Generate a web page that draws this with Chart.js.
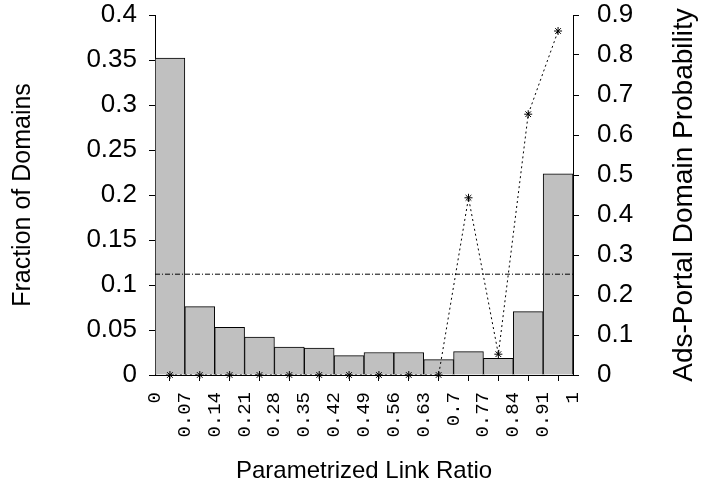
<!DOCTYPE html>
<html>
<head>
<meta charset="utf-8">
<script src="https://cdn.jsdelivr.net/npm/chart.js@4"></script>
<style>
    html, body { margin: 0; padding: 0; background: #fff; }
    #wrap { width: 701px; height: 492px; }
</style>
</head>
<body>
<div id="wrap"><canvas id="ratioChart" width="701" height="492"></canvas></div>
<script>
// Datos
const binLabels = ['0', '0.07', '0.14', '0.21', '0.28', '0.35', '0.42', '0.49', '0.56', '0.63', '0.7', '0.77', '0.84', '0.91', '1'];
const fraction = [0.352, 0.076, 0.053, 0.042, 0.031, 0.030, 0.0215, 0.025, 0.025, 0.017, 0.026, 0.0185, 0.0705, 0.2235];
const adsProb = [0, 0, 0, 0, 0, 0, 0, 0, 0, 0, 0.443, 0.052, 0.652, 0.86];
const avgProb = 0.252;

const sansFont = 'Liberation Sans, Arial, sans-serif';
const monoFont = 'Liberation Mono, Courier New, monospace';

// puntos en el centro de cada intervalo
const barPoints = fraction.map((v, i) => ({ x: i + 0.5, y: v }));
const probPoints = adsProb.map((v, i) => ({ x: i + 0.5, y: v }));
const avgPoints = [{ x: 0, y: avgProb }, { x: fraction.length, y: avgProb }];

// titulo del eje derecho, leido de abajo hacia arriba
const rightTitle = {
    id: 'rightTitle',
    afterDraw(chart) {
        const ctx = chart.ctx;
        const area = chart.chartArea;
        ctx.save();
        ctx.translate(684, (area.top + area.bottom) / 2);
        ctx.rotate(-Math.PI / 2);
        ctx.font = '28px ' + sansFont;
        ctx.fillStyle = '#000';
        ctx.textAlign = 'center';
        ctx.textBaseline = 'middle';
        ctx.fillText('Ads-Portal Domain Probability', 0, 0);
        ctx.restore();
    }
};

// ancho fijo del eje vertical, sin margen extra arriba/abajo
function fixVertical(width) {
    return (scale) => {
        scale.width = width;
        scale.paddingTop = 0;
        scale.paddingBottom = 0;
    };
}

const ctxRatio = document.getElementById('ratioChart').getContext('2d');

const ratioChart = new Chart(ctxRatio, {
    type: 'bar',
    data: {
        datasets: [{
            type: 'line',
            data: avgPoints,
            yAxisID: 'y2',
            borderColor: '#000',
            borderWidth: 1,
            borderDash: [5, 2, 1, 2],
            pointRadius: 0,
            order: 0
        }, {
            type: 'line',
            data: probPoints,
            yAxisID: 'y2',
            borderColor: '#000',
            borderWidth: 1,
            borderDash: [2, 3],
            pointStyle: 'star',
            pointRadius: 4,
            pointBorderColor: '#000',
            pointBorderWidth: 1,
            clip: false,
            order: 0
        }, {
            type: 'bar',
            data: barPoints,
            yAxisID: 'y',
            backgroundColor: '#c0c0c0',
            borderColor: '#000',
            borderWidth: 1,
            barPercentage: 1,
            categoryPercentage: 1,
            order: 1
        }]
    },
    options: {
        responsive: false,
        animation: false,
        layout: { padding: { top: 15, left: 0, right: 0, bottom: 0 } },
        plugins: {
            legend: { display: false },
            tooltip: { enabled: false }
        },
        scales: {
            x: {
                type: 'linear',
                offset: false,
                min: 0,
                max: fraction.length,
                afterFit: (scale) => { scale.height = 117; },
                grid: { drawOnChartArea: false, tickLength: 6, color: '#000' },
                border: { color: '#000', width: 1 },
                ticks: {
                    stepSize: 1,
                    autoSkip: false,
                    maxRotation: 90,
                    minRotation: 90,
                    padding: 11,
                    color: '#000',
                    font: { family: monoFont, size: 19 },
                    callback: (v) => binLabels[v]
                },
                title: {
                    display: true,
                    text: 'Parametrized Link Ratio',
                    color: '#000',
                    font: { family: sansFont, size: 24 },
                    padding: { top: 0, bottom: 6 }
                }
            },
            y: {
                position: 'left',
                min: 0,
                max: 0.4,
                afterFit: fixVertical(155),
                grid: { drawOnChartArea: false, tickLength: 6, color: '#000' },
                border: { color: '#000', width: 1 },
                ticks: {
                    stepSize: 0.05,
                    padding: 12,
                    color: '#000',
                    font: { family: sansFont, size: 26 },
                    callback: (v) => +v.toFixed(2)
                },
                title: {
                    display: true,
                    text: 'Fraction of Domains',
                    color: '#000',
                    font: { family: sansFont, size: 25 },
                    padding: { top: 8, bottom: 0 }
                }
            },
            y2: {
                position: 'right',
                min: 0,
                max: 0.9,
                afterFit: fixVertical(128),
                grid: { drawOnChartArea: false, tickLength: 6, color: '#000' },
                border: { color: '#000', width: 1 },
                ticks: {
                    stepSize: 0.1,
                    padding: 18,
                    color: '#000',
                    font: { family: sansFont, size: 26 },
                    callback: (v) => +v.toFixed(1)
                }
            }
        }
    },
    plugins: [rightTitle]
});
</script>
</body>
</html>
